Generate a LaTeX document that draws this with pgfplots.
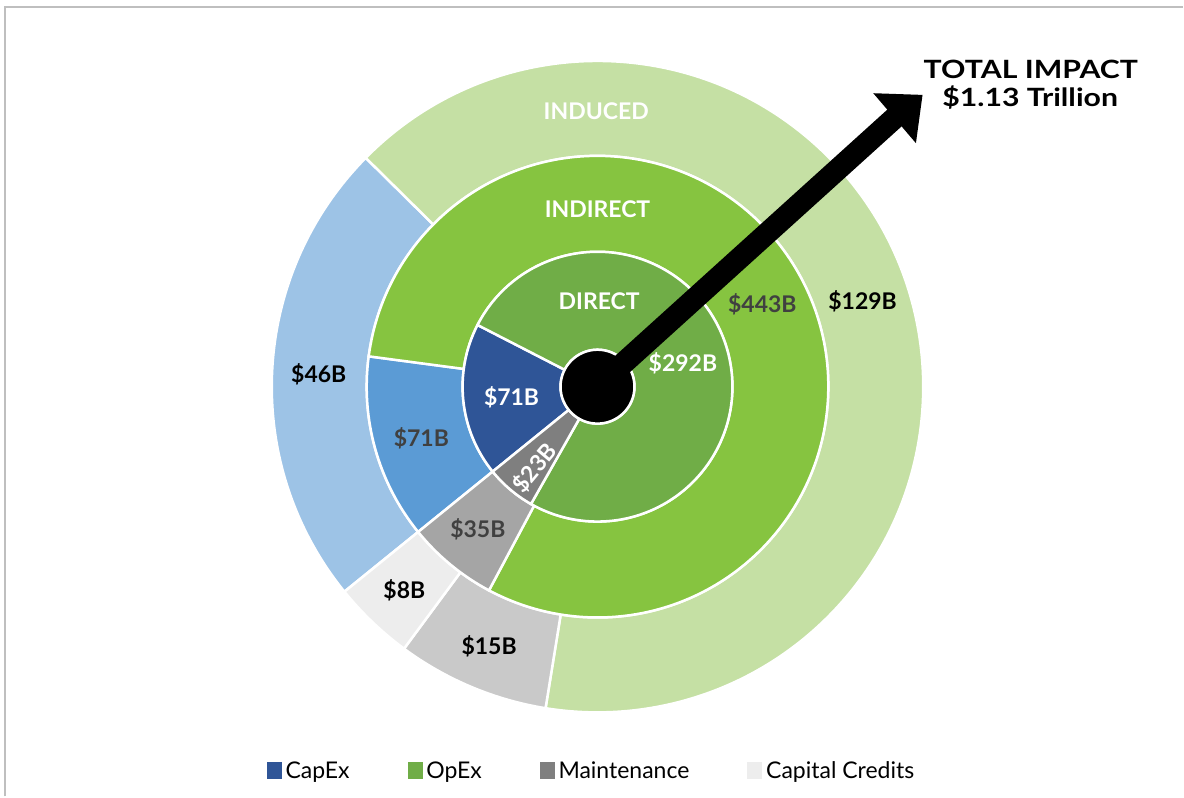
\documentclass[border=0pt]{standalone}
\usepackage{pgfplots}
\pgfplotsset{compat=1.18}
\usepackage{pgfplotstable}
\usepackage{fontspec}
\setmainfont{Lato}

\definecolor{c0a}{HTML}{2F5597}
\definecolor{c0b}{HTML}{70AD47}
\definecolor{c0c}{HTML}{7F7F7F}
\definecolor{c0d}{HTML}{D9D9D9}
\definecolor{c1a}{HTML}{5B9BD5}
\definecolor{c1b}{HTML}{86C440}
\definecolor{c1c}{HTML}{A5A5A5}
\definecolor{c1d}{HTML}{E0E0E0}
\definecolor{c2a}{HTML}{9DC3E6}
\definecolor{c2b}{HTML}{C5E0A4}
\definecolor{c2c}{HTML}{C9C9C9}
\definecolor{c2d}{HTML}{EDEDED}
\definecolor{txtgray}{HTML}{404040}
\definecolor{framegray}{HTML}{BFBFBF}

% ring radii in px, values in $B
\pgfplotstableread{
ring rin rout capex opex maint credits
0 37 135 71 292 23 0
1 135 231 71 443 35 0
2 231 326 46 129 15 8
}\rings

\def\startangle{219}
\newcommand\computering[1]{%
  \pgfplotstablegetelem{#1}{capex}\of\rings\edef\va{\pgfplotsretval}%
  \pgfplotstablegetelem{#1}{opex}\of\rings\edef\vb{\pgfplotsretval}%
  \pgfplotstablegetelem{#1}{maint}\of\rings\edef\vc{\pgfplotsretval}%
  \pgfplotstablegetelem{#1}{credits}\of\rings\edef\vd{\pgfplotsretval}%
  \pgfplotstablegetelem{#1}{rin}\of\rings\expandafter\xdef\csname rin#1\endcsname{\pgfplotsretval}%
  \pgfplotstablegetelem{#1}{rout}\of\rings\expandafter\xdef\csname rout#1\endcsname{\pgfplotsretval}%
  \pgfmathsetmacro\tot{\va+\vb+\vc+\vd}%
  \pgfmathsetmacro\ta{\startangle}%
  \pgfmathsetmacro\tb{\ta-\va/\tot*360}%
  \pgfmathsetmacro\tc{\tb-\vb/\tot*360}%
  \pgfmathsetmacro\td{\tc-\vc/\tot*360}%
  \pgfmathsetmacro\te{\td-\vd/\tot*360}%
  \expandafter\xdef\csname ang#1a\endcsname{\ta}%
  \expandafter\xdef\csname ang#1b\endcsname{\tb}%
  \expandafter\xdef\csname ang#1c\endcsname{\tc}%
  \expandafter\xdef\csname ang#1d\endcsname{\td}%
  \expandafter\xdef\csname ang#1e\endcsname{\te}%
}
\computering{0}\computering{1}\computering{2}

\newcommand\wedgeseg[4]{%
  \edef\wRi{\csname rin#1\endcsname}\edef\wRo{\csname rout#1\endcsname}%
  \edef\wAa{\csname ang#1#2\endcsname}\edef\wAb{\csname ang#1#3\endcsname}%
  \edef\tmp{\noexpand\fill[#4, draw=white, line width=1.25pt]
    (axis cs:{598+\wRo*cos(\wAa)},{410+\wRo*sin(\wAa)})
    arc[start angle=\wAa, end angle=\wAb, radius=\wRo*0.5pt]
    -- (axis cs:{598+\wRi*cos(\wAb)},{410+\wRi*sin(\wAb)})
    arc[start angle=\wAb, end angle=\wAa, radius=\wRi*0.5pt] -- cycle;}%
  \tmp}

\newcommand\lbl{\fontsize{11.5}{13}\selectfont\bfseries}
\newcommand\legfont{\fontsize{11.5}{13}\selectfont}
\newcommand\ttl{\fontsize{12.6}{15}\selectfont\bfseries}

\begin{document}
\begin{tikzpicture}
\begin{axis}[x=0.5pt, y=0.5pt, xmin=0, xmax=1184, ymin=0, ymax=797,
  hide axis, clip=false,
  legend style={at={(axis cs:593,25)}, anchor=center, draw=none, fill=none,
    legend columns=4, font=\legfont,
    /tikz/every even column/.append style={column sep=27pt}},
  legend cell align=left]
\path (axis cs:0,0) rectangle (axis cs:1184,797);
% frame
\draw[framegray, line width=1pt] (axis cs:5,0) -- (axis cs:5,790) -- (axis cs:1184,790);

% outer ring
\wedgeseg{2}{a}{b}{c2a}
\wedgeseg{2}{b}{c}{c2b}
\wedgeseg{2}{c}{d}{c2c}
\wedgeseg{2}{d}{e}{c2d}
% middle ring
\wedgeseg{1}{a}{b}{c1a}
\wedgeseg{1}{b}{c}{c1b}
\wedgeseg{1}{c}{d}{c1c}
% inner ring
\wedgeseg{0}{a}{b}{c0a}
\wedgeseg{0}{b}{c}{c0b}
\wedgeseg{0}{c}{d}{c0c}

% centre + arrow
\fill[black, draw=white, line width=1.25pt] (axis cs:598,410) circle[radius=18.5pt];
\draw[black, line width=11pt] (axis cs:598,410) -- (axis cs:897,680.5);
\fill[black] (axis cs:874,703.7) -- (axis cs:923.3,702) -- (axis cs:916.7,653.7) -- cycle;

% ring names
\node[font=\lbl, text=white, anchor=base] at (axis cs:596.7,677.7) {INDUCED};
\node[font=\lbl, text=white, anchor=base] at (axis cs:598,579.7) {INDIRECT};
\node[font=\lbl, text=white, anchor=base] at (axis cs:599.7,487) {DIRECT};
% values
\node[font=\lbl, text=white, anchor=base] at (axis cs:683.5,425.3) {\$292B};
\node[font=\lbl, text=white, anchor=base] at (axis cs:512,391) {\$71B};
\node[font=\lbl, text=white, rotate=50, inner sep=0pt] at (axis cs:535,328.7) {\$23B};
\node[font=\lbl, text=txtgray, anchor=base] at (axis cs:763,484.3) {\$443B};
\node[font=\lbl, text=txtgray, anchor=base] at (axis cs:421.7,350.3) {\$71B};
\node[font=\lbl, text=txtgray, anchor=base] at (axis cs:478.3,258.7) {\$35B};
\node[font=\lbl, text=black, anchor=base] at (axis cs:863.3,487.7) {\$129B};
\node[font=\lbl, text=black, anchor=base] at (axis cs:319,413.7) {\$46B};
\node[font=\lbl, text=black, anchor=base] at (axis cs:404.7,198) {\$8B};
\node[font=\lbl, text=black, anchor=base] at (axis cs:489.5,142) {\$15B};
% title
\node[font=\ttl, anchor=base, xscale=1.2] at (axis cs:1031.7,718) {TOTAL IMPACT};
\node[font=\ttl, anchor=base, xscale=1.2] at (axis cs:1031,690.3) {\$1.13 Trillion};

% legend
\addlegendimage{legend image code/.code={\fill[c0a] (0pt,-3.5pt) rectangle (7pt,4.5pt);}}
\addlegendentry{CapEx}
\addlegendimage{legend image code/.code={\fill[c0b] (0pt,-3.5pt) rectangle (7pt,4.5pt);}}
\addlegendentry{OpEx}
\addlegendimage{legend image code/.code={\fill[c0c] (0pt,-3.5pt) rectangle (7pt,4.5pt);}}
\addlegendentry{Maintenance}
\addlegendimage{legend image code/.code={\fill[c2d] (0pt,-3.5pt) rectangle (7pt,4.5pt);}}
\addlegendentry{Capital Credits}
\end{axis}
\end{tikzpicture}
\end{document}
